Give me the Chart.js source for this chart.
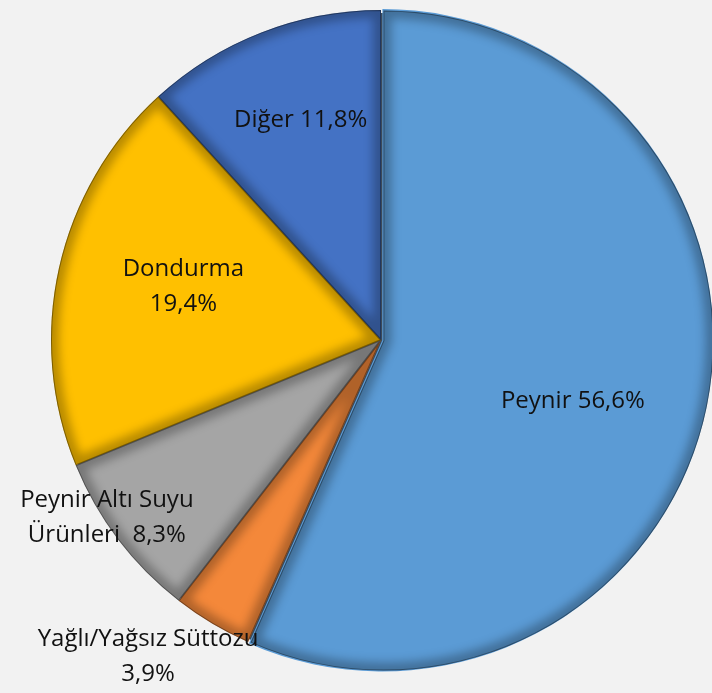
<!DOCTYPE html>
<html>
<head>
<meta charset="utf-8">
<script src="https://cdn.jsdelivr.net/npm/chart.js@4/dist/chart.umd.min.js"></script>
<style>
  html, body { margin: 0; padding: 0; background: #f2f2f2; }
  #wrap { width: 712px; height: 693px; }
</style>
</head>
<body>
<div id="wrap"><canvas id="pieChart" width="712" height="693"></canvas></div>
<script>
const categories = ["Peynir", "Yağlı/Yağsız Süttozu", "Peynir Altı Suyu Ürünleri", "Dondurma", "Diğer"];
const shares = [56.6, 3.9, 8.3, 19.4, 11.8];
const labelLines = [
    ["Peynir 56,6%"],
    ["Yağlı/Yağsız Süttozu", "3,9%"],
    ["Peynir Altı Suyu", "Ürünleri  8,3%"],
    ["Dondurma", "19,4%"],
    ["Diğer 11,8%"]
];
const colors = ["#5b9bd5", "#f4883a", "#a5a5a5", "#ffc000", "#4472c4"];


// =================== Bevel + labels ===================

const labelRadius = [0.61, 1.19, 0.99, 0.62, 0.71];
const labelTurn = [5.7, 5.6, 4.3, 2.4, 1.2];

function slicePath(ctx, arc) {
    const offset = (arc.options.offset || 0) / 4;
    const circ = arc.endAngle - arc.startAngle;
    const fix = 1 - Math.sin(Math.min(Math.PI, circ));
    const shift = offset + offset * fix;
    const half = (arc.startAngle + arc.endAngle) / 2;
    const cx = arc.x + Math.cos(half) * shift;
    const cy = arc.y + Math.sin(half) * shift;
    ctx.beginPath();
    ctx.moveTo(cx, cy);
    ctx.arc(cx, cy, arc.outerRadius, arc.startAngle, arc.endAngle);
    ctx.closePath();
}

const bevel = {
    id: "bevel",
    beforeDatasetDraw(chart) {
        // dark underlay so the seam of the pulled-out slice looks shaded
        const { ctx } = chart;
        const arcs = chart.getDatasetMeta(0).data;
        const a = arcs[1];
        ctx.save();
        ctx.fillStyle = "#3d4a58";
        ctx.beginPath();
        ctx.arc(a.x, a.y, a.outerRadius - 3, 0, Math.PI * 2);
        ctx.fill();
        ctx.restore();
    },
    afterDatasetDraw(chart) {
        const { ctx } = chart;
        const arcs = chart.getDatasetMeta(0).data;
        arcs.forEach(arc => {
            ctx.save();
            slicePath(ctx, arc);
            ctx.clip();
            ctx.filter = "blur(5px)";
            ctx.lineWidth = 16;
            ctx.strokeStyle = "rgba(0,0,0,0.28)";
            slicePath(ctx, arc);
            ctx.stroke();
            ctx.filter = "none";
            ctx.lineWidth = 2;
            ctx.strokeStyle = "rgba(0,0,0,0.35)";
            slicePath(ctx, arc);
            ctx.stroke();
            ctx.restore();
        });
    },
    afterDraw(chart) {
        const { ctx } = chart;
        const arcs = chart.getDatasetMeta(0).data;
        ctx.save();
        ctx.font = "24px 'Open Sans'";
        ctx.fillStyle = "#111";
        ctx.textAlign = "center";
        ctx.textBaseline = "middle";
        arcs.forEach((arc, i) => {
            const half = (arc.startAngle + arc.endAngle) / 2 + labelTurn[i] * Math.PI / 180;
            const r = arc.outerRadius * labelRadius[i];
            const x = arc.x + Math.cos(half) * r;
            const y = arc.y + Math.sin(half) * r;
            const lines = labelLines[i];
            const lh = 35;
            lines.forEach((t, k) => {
                ctx.fillText(t, x, y + (k - (lines.length - 1) / 2) * lh);
            });
        });
        ctx.restore();
    }
};


const ctx1 = document.getElementById("pieChart").getContext("2d");

new Chart(ctx1, {

    type: "pie",

    data: {
        labels: categories,
        datasets: [{
            data: shares,
            backgroundColor: colors,
            borderWidth: 0,
            offset: [5, 0, 0, 0, 0],
            radius: 330
        }]
    },

    options: {
        responsive: false,
        animation: false,
        layout: { padding: { left: 50, right: 0, top: 0, bottom: 13 } },
        plugins: {
            legend: { display: false },
            tooltip: { enabled: false }
        }
    },

    plugins: [bevel]

});
</script>
</body>
</html>
